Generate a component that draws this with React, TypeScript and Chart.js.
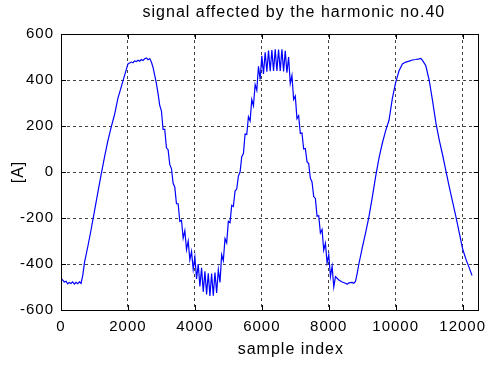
import React, { useEffect, useRef } from "react";
import { Chart, registerables } from "chart.js";

Chart.register(...registerables);

const titleText = "signal affected by the harmonic no.40";
const xLabel = "sample index";
const yLabel = "[A]";

const xTicks = [0, 2000, 4000, 6000, 8000, 10000, 12000];
const yTicks = [-600, -400, -200, 0, 200, 400, 600];

const sampleIndex = [
  0, 50, 100, 150, 200, 250, 300, 350, 400, 450, 500, 550, 600, 650, 700, 800, 900, 1000,
  1100, 1200, 1300, 1400, 1500, 1600, 1700, 1800, 1900, 2000, 2050, 2100, 2150, 2200, 2250,
  2300, 2350, 2400, 2450, 2500, 2550, 2600, 2650, 2700, 2750, 2800, 2850, 2900, 2950,
  3000, 3050, 3100, 3150, 3200, 3250, 3300, 3350, 3400, 3450, 3500, 3550, 3600, 3650, 3700,
  3750, 3800, 3850, 3900, 3950, 4000, 4050, 4100, 4150, 4200, 4250, 4300, 4350, 4400, 4450,
  4500, 4550, 4600, 4650, 4700, 4750, 4800, 4850, 4900, 4950, 5000, 5050, 5100, 5150, 5200,
  5250, 5300, 5350, 5400, 5450, 5500, 5550, 5600, 5650, 5700, 5750, 5800, 5850, 5900, 5950,
  6000, 6050, 6100, 6150, 6200, 6250, 6300, 6350, 6400, 6450, 6500, 6550, 6600, 6650, 6700,
  6750, 6800, 6850, 6900, 6950, 7000, 7050, 7100, 7150, 7200, 7250, 7300, 7350, 7400, 7450,
  7500, 7550, 7600, 7650, 7700, 7750, 7800, 7850, 7900, 7950, 8000, 8050, 8100, 8150, 8200,
  8250, 8300, 8400, 8500, 8550, 8600, 8700, 8750, 8800, 8850, 8900, 9000, 9100, 9200, 9300,
  9400, 9500, 9600, 9700, 9800, 9900, 10000, 10100, 10200, 10300, 10400, 10500, 10600, 10700,
  10750, 10800, 10900, 11000, 11100, 11200, 11300, 11400, 11500, 11600, 11700, 11800, 11900,
  12000, 12100, 12200, 12280,
];

const currentA = [
  -462, -470, -478, -475, -486, -480, -485, -478, -487, -480, -486, -478, -484, -450, -395, -325, -250, -170,
  -90, -10, 65, 135, 195, 250, 320, 370, 420, 470, 474, 478, 475, 483, 480,
  486, 482, 489, 485, 492, 496, 488, 493, 478, 455, 420, 385, 340, 290,
  266, 185, 185, 105, 97, 32, 15, -49, -66, -138, -138, -215, -210, -288, -255,
  -338, -300, -382, -345, -423, -370, -465, -400, -498, -417, -521, -432, -532, -440, -539,
  -442, -538, -437, -526, -425, -480, -360, -385, -290, -308, -215, -220, -145, -150, -83,
  -74, -18, 0, 67, 80, 165, 163, 240, 222, 315, 288, 380, 355, 460, 402,
  505, 426, 520, 436, 528, 438, 530, 439, 533, 439, 532, 439, 533, 437, 527,
  432, 500, 385, 420, 315, 330, 232, 245, 168, 170, 100, 102, 45, 37, -27,
  -43, -107, -115, -192, -190, -265, -250, -340, -310, -395, -360, -455, -410, -500, -455,
  -462, -470, -478, -484, -488, -482, -480, -484, -475, -440, -400, -330, -265, -195, -110,
  -20, 60, 125, 180, 225, 320, 390, 440, 470, 478, 482, 487, 489, 492,
  494, 485, 462, 400, 310, 215, 140, 75, 5, -65, -130, -195, -265,
  -335, -380, -418, -450,
];

const FONT = '"Liberation Sans", Arial, Helvetica, sans-serif';

export default function App() {
  const ref = useRef<HTMLCanvasElement>(null);

  useEffect(() => {
    const canvas = ref.current;
    if (!canvas) return;

    const decor = {
      id: "decor",
      beforeDraw(chart: any) {
        chart.ctx.letterSpacing = "1px";
      },
      afterDraw(chart: any) {
        const { ctx, chartArea: a, scales } = chart;
        ctx.save();
        ctx.strokeStyle = "#000";
        ctx.lineWidth = 1;
        ctx.setLineDash([]);
        ctx.beginPath();
        for (const v of xTicks) {
          const px = Math.round(scales.x.getPixelForValue(v)) + 0.5;
          ctx.moveTo(px, a.bottom);
          ctx.lineTo(px, a.bottom - 5);
          ctx.moveTo(px, a.top);
          ctx.lineTo(px, a.top + 5);
        }
        for (const v of yTicks) {
          const py = Math.round(scales.y.getPixelForValue(v)) + 0.5;
          ctx.moveTo(a.left, py);
          ctx.lineTo(a.left + 5, py);
          ctx.moveTo(a.right, py);
          ctx.lineTo(a.right - 5, py);
        }
        ctx.stroke();
        ctx.strokeRect(
          Math.round(a.left) + 0.5,
          Math.round(a.top) + 0.5,
          Math.round(a.right - a.left) - 1,
          Math.round(a.bottom - a.top)
        );
        ctx.fillStyle = "#000";
        ctx.letterSpacing = "1px";
        ctx.font = `16px ${FONT}`;
        ctx.textAlign = "center";
        ctx.textBaseline = "middle";
        const cx = (a.left + a.right) / 2;
        ctx.fillText(titleText, cx + 24, a.top - 21);
        ctx.fillText(xLabel, cx + 21, a.bottom + 40);
        ctx.translate(a.left - 42, (a.top + a.bottom) / 2);
        ctx.rotate(-Math.PI / 2);
        ctx.fillText(yLabel, 0, 0);
        ctx.restore();
      },
    };

    const chart = new Chart(canvas, {
      type: "line",
      data: {
        datasets: [
          {
            data: sampleIndex.map((x, i) => ({ x, y: currentA[i] })),
            borderColor: "#0000ff",
            borderWidth: 1.2,
            pointRadius: 0,
            tension: 0,
            fill: false,
          },
        ],
      },
      options: {
        responsive: false,
        animation: false,
        devicePixelRatio: 1,
        layout: { padding: { top: 34, right: 13, left: 0, bottom: 0 } },
        plugins: {
          legend: { display: false },
          tooltip: { enabled: false },
          title: { display: false },
        },
        scales: {
          x: {
            type: "linear",
            min: 0,
            max: 12480,
            afterBuildTicks: (s: any) => {
              s.ticks = xTicks.map((v) => ({ value: v }));
            },
            afterFit: (s: any) => {
              s.height = 57;
            },
            ticks: {
              font: { family: FONT, size: 15 },
              color: "#000",
              padding: 8,
              maxRotation: 0,
              autoSkip: false,
              includeBounds: false,
              callback: (v: any) => String(v),
            },
            grid: { color: "#444", drawTicks: false, lineWidth: 1 },
            border: { display: false, dash: [3, 3] },
          },
          y: {
            type: "linear",
            min: -600,
            max: 600,
            afterBuildTicks: (s: any) => {
              s.ticks = yTicks.map((v) => ({ value: v }));
            },
            afterFit: (s: any) => {
              s.width = 61;
            },
            ticks: {
              font: { family: FONT, size: 15 },
              color: "#000",
              padding: 7,
              autoSkip: false,
              includeBounds: false,
              callback: (v: any) => String(v),
            },
            grid: { color: "#444", drawTicks: false, lineWidth: 1 },
            border: { display: false, dash: [3, 3] },
          },
        },
      },
      plugins: [decor],
    } as any);

    return () => chart.destroy();
  }, []);

  return (
    <div style={{ position: "absolute", left: 0, top: 0, width: 492, height: 367, background: "#fff" }}>
      <canvas ref={ref} width={492} height={367} style={{ display: "block" }} />
    </div>
  );
}
